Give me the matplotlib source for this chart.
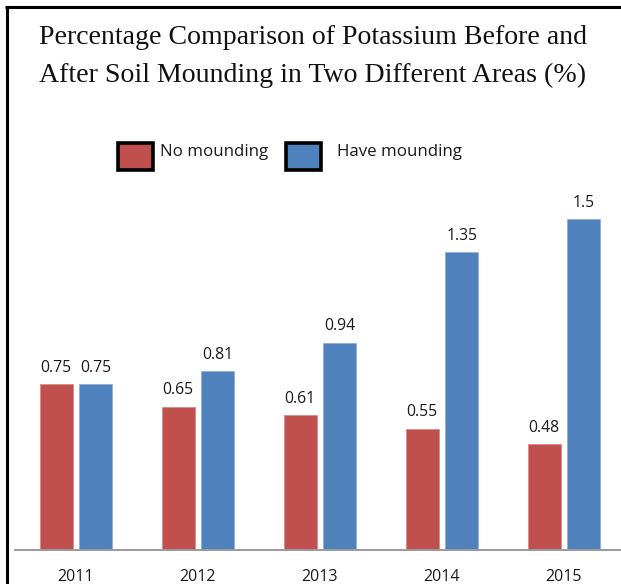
import matplotlib
matplotlib.use("Agg")
import matplotlib.pyplot as plt
from matplotlib.patches import Rectangle
from matplotlib.lines import Line2D
import numpy as np

years = ["2011", "2012", "2013", "2014", "2015"]
no_mounding = [0.75, 0.65, 0.61, 0.55, 0.48]
have_mounding = [0.75, 0.81, 0.94, 1.35, 1.5]
series_names = ["No mounding", "Have mounding"]

RED = "#C0504D"
BLUE = "#4F81BD"
W, H = 621, 584
DPI = 100

fig = plt.figure(figsize=(W / DPI, H / DPI), dpi=DPI)
fig.patch.set_facecolor("white")

# axes placed in pixel units (left, bottom from bottom-left)
ax_left, ax_right = 15, 625
ax_bottom = H - 550
ymax = 1.6
px_per_unit = 220.7
ax_height = ymax * px_per_unit
ax = fig.add_axes([ax_left / W, ax_bottom / H, (ax_right - ax_left) / W, ax_height / H])
ax.set_facecolor("none")

x = np.arange(len(years))
bw = 0.27
gap = 0.057
off = (bw + gap) / 2
b1 = ax.bar(x - off, no_mounding, bw, color=RED, edgecolor="#D98A88", linewidth=0.6)
b2 = ax.bar(x + off, have_mounding, bw, color=BLUE, edgecolor="#8DB0DA", linewidth=0.6)

label_font = ["Open Sans", "DejaVu Sans"]
for bars, vals in ((b1, no_mounding), (b2, have_mounding)):
    for rect, v in zip(bars, vals):
        ax.annotate(f"{v:g}", (rect.get_x() + rect.get_width() / 2, v),
                    xytext=(0, 6), textcoords="offset points",
                    ha="center", va="bottom", fontsize=11.3,
                    family=label_font, color="#1a1a1a")

ax.set_xlim(-0.5, len(years) - 0.5)
ax.set_ylim(0, ymax)
ax.set_xticks(x)
ax.set_xticklabels(years, fontsize=11.5, family=label_font, color="#1a1a1a")
ax.tick_params(axis="x", length=0, pad=13.5)
ax.set_yticks([])
for s in ("left", "right", "top"):
    ax.spines[s].set_visible(False)
ax.spines["bottom"].set_color("#9A9A9A")
ax.spines["bottom"].set_linewidth(1.4)

# title
title_font = ["Liberation Serif", "DejaVu Serif"]
fig.text(313 / W, 1 - 38 / H, "Percentage Comparison of Potassium Before and",
         ha="center", va="center", fontsize=20.1, family=title_font, color="#111111")
fig.text(313 / W, 1 - 75 / H, "After Soil Mounding in Two Different Areas (%)",
         ha="center", va="center", fontsize=20.1, family=title_font, color="#111111")

# legend
def legend_item(x0, color, tx, label):
    fig.patches.append(Rectangle((x0 / W, 1 - 170 / H), 35 / W, 27 / H,
                                 transform=fig.transFigure, facecolor=color,
                                 edgecolor="black", linewidth=2.6, figure=fig))
    fig.text(tx / W, 1 - 152 / H, label, ha="left", va="center",
             fontsize=12.2, family=label_font, color="#1a1a1a")

legend_item(118, RED, 160, series_names[0])
legend_item(286, BLUE, 337, series_names[1])

# outer frame (left and top edges)
fig.lines.append(Line2D([6.5 / W, 6.5 / W], [0, 1 - 6 / H], transform=fig.transFigure,
                        color="black", linewidth=2.2, solid_capstyle="butt", figure=fig))
fig.lines.append(Line2D([5.4 / W, 1], [1 - 7 / H, 1 - 7 / H], transform=fig.transFigure,
                        color="black", linewidth=2.2, solid_capstyle="butt", figure=fig))

fig.savefig("out.png", dpi=DPI, facecolor="white")
